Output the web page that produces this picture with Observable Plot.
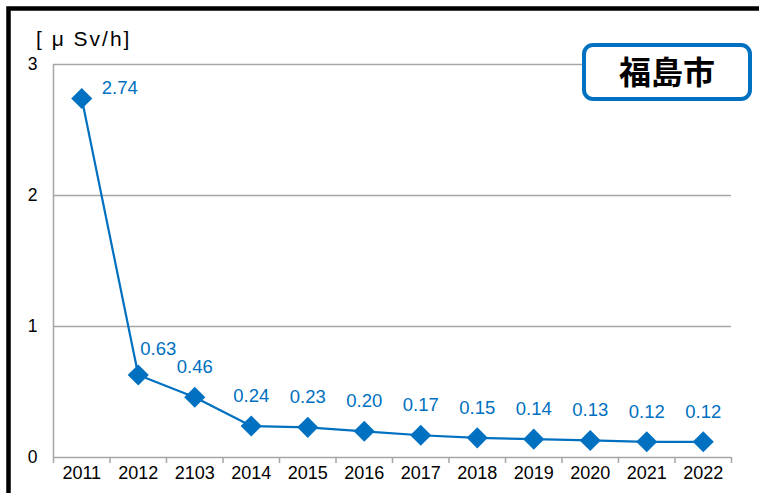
<!DOCTYPE html>
<html>
<head>
<meta charset="utf-8">
<script src="https://cdn.jsdelivr.net/npm/d3@7"></script>
<script src="https://cdn.jsdelivr.net/npm/@observablehq/plot@0.6"></script>
<style>
  html, body { margin: 0; padding: 0; background: #fff; }
  #chart { width: 759px; height: 493px; }
</style>
</head>
<body>
<div id="chart"></div>
<script>
const years = ["2011","2012","2103","2014","2015","2016","2017","2018","2019","2020","2021","2022"];
const values = [2.74, 0.63, 0.46, 0.24, 0.23, 0.20, 0.17, 0.15, 0.14, 0.13, 0.12, 0.12];
const labels = ["2.74","0.63","0.46","0.24","0.23","0.20","0.17","0.15","0.14","0.13","0.12","0.12"];
const yTicks = [0, 1, 2, 3];
const unitText = "[ μ Sv/h]";
const cityName = "福島市";

const data = years.map((y, i) => ({i, year: y, value: values[i], label: labels[i]}));
const blue = "#0070C0";
const grid = "#a6a6a6";
const font = "Liberation Sans, Arial, sans-serif";

const plot = Plot.plot({
  width: 759,
  height: 493,
  marginLeft: 53,
  marginRight: 28,
  marginTop: 64,
  marginBottom: 36,
  style: {fontFamily: font, fontSize: "18px", color: "#000", background: "#fff"},
  x: {domain: [0, years.length], axis: null},
  y: {domain: [0, 3], axis: null},
  marks: [
    Plot.ruleY(yTicks.filter(d => d > 0), {stroke: grid, strokeWidth: 1.3}),
    Plot.ruleY([0], {stroke: grid, strokeWidth: 1.5}),
    Plot.ruleX([0], {stroke: grid, strokeWidth: 1.5}),
    Plot.axisX({ticks: d3.range(0, years.length + 1), tickSize: 6, tickFormat: () => "", stroke: grid, strokeWidth: 1.5, label: null}),
    Plot.text(yTicks, {y: d => d, frameAnchor: "left", dx: -16, textAnchor: "end", text: d => String(d), fontSize: 17.5, fill: "#000"}),
    Plot.text(data, {x: d => d.i + 0.5, frameAnchor: "bottom", dy: 21, text: "year", fontSize: 18, fill: "#000"}),
    Plot.line(data, {x: d => d.i + 0.5, y: "value", stroke: blue, strokeWidth: 2.2}),
    Plot.dot(data, {x: d => d.i + 0.5, y: "value", symbol: "diamond2", r: 9.5, fill: blue, stroke: "none"}),
    Plot.text(data.filter(d => d.i === 0), {x: d => d.i + 0.5, y: "value", text: "label", fill: blue, fontSize: 18.5, dx: 20, dy: -10, textAnchor: "start"}),
    Plot.text(data.filter(d => d.i === 1), {x: d => d.i + 0.5, y: "value", text: "label", fill: blue, fontSize: 18.5, dx: 20, dy: -26}),
    Plot.text(data.filter(d => d.i >= 2), {x: d => d.i + 0.5, y: "value", text: "label", fill: blue, fontSize: 18.5, dy: -30})
  ]
});

document.getElementById("chart").appendChild(plot);

const svg = d3.select(plot);
// outer frame (top and left)
svg.append("path")
  .attr("d", "M8.5,493 V8.5 H759")
  .attr("fill", "none")
  .attr("stroke", "#000")
  .attr("stroke-width", 4.5);
// unit label
svg.append("text")
  .attr("x", 36).attr("y", 46)
  .attr("text-anchor", "start")
  .attr("font-family", font)
  .style("font-size", "21px")
  .style("letter-spacing", "2px")
  .attr("fill", "#000")
  .text(unitText);
// city box
svg.append("rect")
  .attr("x", 584).attr("y", 45)
  .attr("width", 166).attr("height", 54)
  .attr("rx", 9).attr("ry", 9)
  .attr("fill", "#fff")
  .attr("stroke", blue)
  .attr("stroke-width", 4);
svg.append("text")
  .attr("x", 667).attr("y", 72)
  .attr("dy", "0.36em")
  .attr("text-anchor", "middle")
  .attr("font-family", "Noto Sans CJK JP, sans-serif")
  .attr("font-weight", "bold")
  .style("font-size", "32px")
  .attr("fill", "#000")
  .text(cityName);
</script>
</body>
</html>
